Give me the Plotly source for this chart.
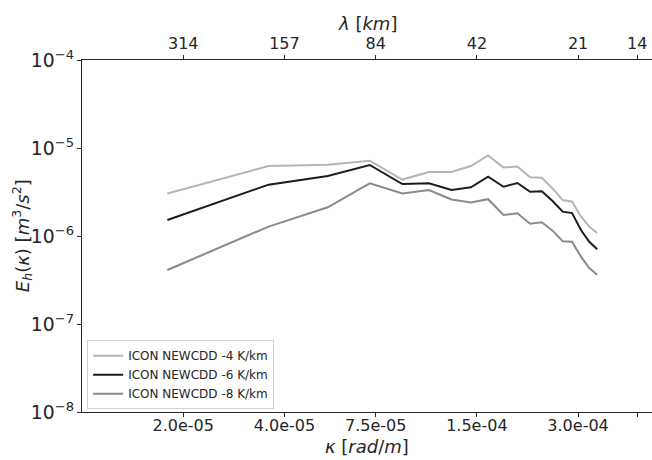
import plotly.graph_objects as go

# Horizontal wavenumbers of the spectral bins [rad/m]
kappa = [1.795e-05, 3.590e-05, 5.386e-05, 7.181e-05, 8.976e-05, 1.077e-04,
         1.257e-04, 1.436e-04, 1.616e-04, 1.795e-04, 1.975e-04, 2.154e-04,
         2.334e-04, 2.513e-04, 2.693e-04, 2.872e-04, 3.052e-04, 3.231e-04,
         3.411e-04]

# Horizontal kinetic energy spectra E_h(kappa) [m^3/s^2]
spec_m4 = [3.04e-06, 6.24e-06, 6.46e-06, 7.17e-06, 4.38e-06, 5.33e-06,
           5.35e-06, 6.24e-06, 8.22e-06, 6.00e-06, 6.16e-06, 4.65e-06,
           4.60e-06, 3.47e-06, 2.56e-06, 2.45e-06, 1.67e-06, 1.28e-06,
           1.08e-06]
spec_m6 = [1.52e-06, 3.83e-06, 4.81e-06, 6.41e-06, 3.90e-06, 3.97e-06,
           3.33e-06, 3.58e-06, 4.71e-06, 3.63e-06, 4.00e-06, 3.18e-06,
           3.22e-06, 2.50e-06, 1.89e-06, 1.82e-06, 1.17e-06, 8.61e-07,
           7.06e-07]
spec_m8 = [4.11e-07, 1.28e-06, 2.12e-06, 3.97e-06, 3.04e-06, 3.33e-06,
           2.60e-06, 2.40e-06, 2.62e-06, 1.73e-06, 1.81e-06, 1.38e-06,
           1.43e-06, 1.15e-06, 8.71e-07, 8.61e-07, 5.82e-07, 4.33e-07,
           3.63e-07]

series_names = ["ICON NEWCDD -4 K/km", "ICON NEWCDD -6 K/km", "ICON NEWCDD -8 K/km"]

# Tick positions: wavenumbers matching wavelengths of 314, 157, 84, 42, 21, 14 km
tick_kappa = [2.001e-05, 4.002e-05, 7.480e-05, 1.496e-04, 2.992e-04, 4.488e-04]
tick_kappa_text = ["2.0e-05", "4.0e-05", "7.5e-05", "1.5e-04", "3.0e-04", ""]
tick_lambda_text = ["314", "157", "84", "42", "21", "14"]

FONT = "DejaVu Sans"
TXT = "#262626"
colors = ["#b5b5b5", "#1c1c1c", "#8a8a8a"]
# the last spectrum is drawn against the (identical) wavelength axis on top,
# which keeps that axis alive
axes = ["x", "x", "x2"]

fig = go.Figure()
for name, vals, col, ax in zip(series_names, [spec_m4, spec_m6, spec_m8], colors, axes):
    fig.add_trace(go.Scatter(x=kappa, y=vals, mode="lines", name=name,
                             xaxis=ax, yaxis="y",
                             line=dict(color=col, width=2)))

xrange = [-5.0, -3.304]

axis_common = dict(type="log", range=xrange, showgrid=False, zeroline=False,
                   showline=True, linecolor=TXT, linewidth=1,
                   ticks="outside", ticklen=4, tickwidth=1, tickcolor=TXT,
                   tickvals=tick_kappa, tickfont=dict(size=16, color=TXT))

fig.update_layout(
    width=652, height=460,
    margin=dict(l=82, r=0, t=60, b=48),
    paper_bgcolor="white", plot_bgcolor="white",
    font=dict(family=FONT, color=TXT, size=16),
    showlegend=True,
    legend=dict(x=0.009, y=0.008, xanchor="left", yanchor="bottom",
                bgcolor="white", bordercolor="#d0d0d0", borderwidth=1,
                font=dict(size=12, color=TXT), tracegroupgap=0,
                itemwidth=30),
    xaxis=dict(**axis_common, ticktext=tick_kappa_text, ticklabelstandoff=-5),
    xaxis2=dict(**axis_common, ticktext=tick_lambda_text,
                overlaying="x", side="top", anchor="y"),
    yaxis=dict(type="log", range=[-8, -4], showgrid=False, zeroline=False,
               showline=True, linecolor=TXT, linewidth=1,
               ticks="outside", ticklen=4, tickwidth=1, tickcolor=TXT,
               dtick=1, exponentformat="power", showexponent="all",
               tickfont=dict(size=15, color=TXT)),
)

# Axis titles
fig.add_annotation(text="<i>κ</i> [<i>rad</i>/<i>m</i>]", xref="paper", yref="paper",
                   x=0.5, y=-0.097, xanchor="center", yanchor="middle",
                   showarrow=False, font=dict(size=18, color=TXT))
fig.add_annotation(text="<i>λ</i> [<i>km</i>]", xref="paper", yref="paper",
                   x=0.5, y=1.105, xanchor="center", yanchor="middle",
                   showarrow=False, font=dict(size=18, color=TXT))
fig.add_annotation(text="<i>E<sub>h</sub></i>(<i>κ</i>) [<i>m</i><sup>3</sup>/<i>s</i><sup>2</sup>]",
                   xref="paper", yref="paper", x=-0.105, y=0.5,
                   xanchor="center", yanchor="middle", textangle=-90,
                   showarrow=False, font=dict(size=18, color=TXT))

fig.write_html("out.html")
